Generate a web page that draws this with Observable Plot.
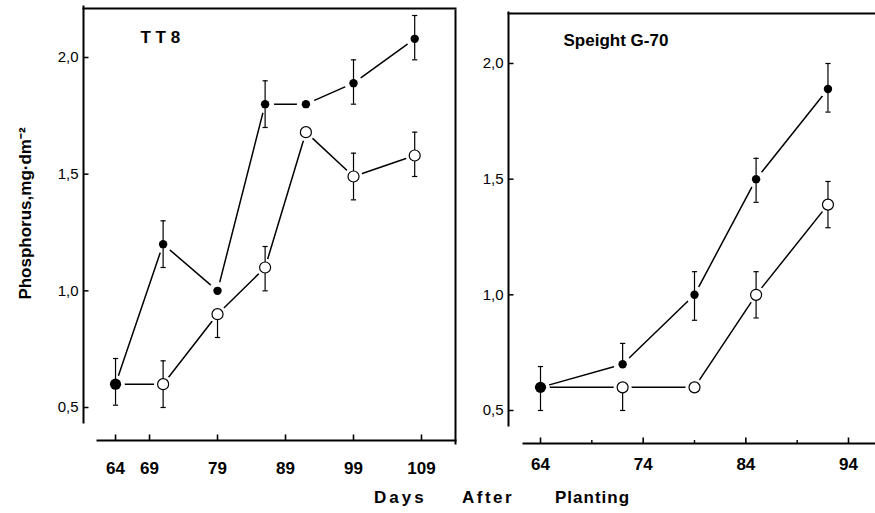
<!DOCTYPE html>
<html><head><meta charset="utf-8">
<script src="https://cdn.jsdelivr.net/npm/d3@7"></script>
<script src="https://cdn.jsdelivr.net/npm/@observablehq/plot@0.6"></script>
<style>
body{margin:0;background:#fff;}
#chart{position:relative;width:875px;height:513px;overflow:hidden;background:#fff;font-family:"Liberation Sans",Arial,sans-serif;}
#chart svg{position:absolute;top:0;}
.xt{position:absolute;font-weight:bold;font-size:17px;line-height:17px;top:489px;color:#000;white-space:nowrap;}
</style></head><body><div id="chart"></div>
<script>
// ---- data: TT 8 ----
const tt8Days = [64, 71, 79, 86, 92, 99, 108];
const tt8Filled = [0.6, 1.2, 1.0, 1.8, 1.8, 1.89, 2.08];
const tt8FilledLow = [0.51, 1.1, null, 1.7, null, 1.8, 1.99];
const tt8FilledHigh = [0.71, 1.3, null, 1.9, null, 1.99, 2.18];
const tt8Open = [0.6, 0.6, 0.9, 1.1, 1.68, 1.49, 1.58];
const tt8OpenLow = [null, 0.5, 0.8, 1.0, null, 1.39, 1.49];
const tt8OpenHigh = [null, 0.7, null, 1.19, null, 1.59, 1.68];
const tt8XTicks = [64, 69, 79, 89, 99, 109];

// ---- data: Speight G-70 ----
const spDays = [64, 72, 79, 85, 92];
const spFilled = [0.6, 0.7, 1.0, 1.5, 1.89];
const spFilledLow = [0.5, null, 0.89, 1.4, 1.79];
const spFilledHigh = [0.69, 0.79, 1.1, 1.59, 2.0];
const spOpen = [0.6, 0.6, 0.6, 1.0, 1.39];
const spOpenLow = [null, 0.5, null, 0.9, 1.29];
const spOpenHigh = [null, null, null, 1.1, 1.49];
const spXTicks = [64, 74, 84, 94];
const spXMinor = [69, 79, 89];

const yTicks = [0.5, 1.0, 1.5, 2.0];
const yTitle = "Phosphorus,mg·dm⁻²";
const xTitleWords = ["Days", "After", "Planting"];

// ---- helpers ----
const rows = (days, v, lo, hi) => days.map((d, i) => ({day: d, v: v[i], lo: lo[i], hi: hi[i]}));
const errs = (r) => r.filter(d => d.lo != null || d.hi != null)
  .map(d => ({day: d.day, a: d.lo ?? d.v, b: d.hi ?? d.v, lo: d.lo, hi: d.hi}));
const capSym = {draw(c){ c.moveTo(-2.6, 0); c.lineTo(2.6, 0); }};
const yTickSym = {draw(c){ c.moveTo(0, 0); c.lineTo(5, 0); }};
const xMajorSym = {draw(c){ c.moveTo(0, 0); c.lineTo(0, -6); }};
const xMinorSym = {draw(c){ c.moveTo(0, 0); c.lineTo(0, -3.5); }};
const fmt = d => d3.format(".1f")(d).replace(".", ",");
const FONT = "Liberation Sans, Arial, sans-serif";

function panel(o) {
  const F = rows(o.days, o.filled, o.filledLow, o.filledHigh);
  const O = rows(o.days, o.open, o.openLow, o.openHigh);
  const E = errs(F).concat(errs(O));
  const marks = [
    ...o.frames.map(f => Plot.frame({stroke: "black", strokeWidth: 2, ...f})),
    Plot.dot(yTicks, {y: d => d, frameAnchor: "left", symbol: yTickSym, stroke: "black", strokeWidth: 1.5, fill: "none"}),
    Plot.dot(o.xTicks, {x: d => d, frameAnchor: "bottom", symbol: xMajorSym, stroke: "black", strokeWidth: 1.6, fill: "none"}),
    Plot.dot(o.xMinor || [], {x: d => d, frameAnchor: "bottom", symbol: xMinorSym, stroke: "black", strokeWidth: 1.4, fill: "none"}),
    Plot.axisX(o.xTicks, {tickSize: 0, tickPadding: o.xPad, fontSize: 17, fontWeight: "bold", label: null, fill: "black"}),
    Plot.axisY(yTicks, {tickSize: 0, tickPadding: 5, tickFormat: fmt, fontSize: 15, label: null, fill: "black"}),
    Plot.line(O, {x: "day", y: "v", stroke: "black", strokeWidth: 1.5}),
    Plot.line(F, {x: "day", y: "v", stroke: "black", strokeWidth: 1.5}),
    Plot.dot(F.concat(O), {x: "day", y: "v", r: 9, fill: "white"}),
    Plot.ruleX(E, {x: "day", y1: "a", y2: "b", stroke: "black", strokeWidth: 1.2}),
    Plot.dot(E.filter(d => d.lo != null), {x: "day", y: "lo", symbol: capSym, stroke: "black", strokeWidth: 1.2, fill: "none"}),
    Plot.dot(E.filter(d => d.hi != null), {x: "day", y: "hi", symbol: capSym, stroke: "black", strokeWidth: 1.2, fill: "none"}),
    Plot.dot(O.slice(1), {x: "day", y: "v", r: 5.5, fill: "white", stroke: "black", strokeWidth: 1.2}),
    Plot.dot(F.slice(0, 1), {x: "day", y: "v", r: 5.6, fill: "black", stroke: "none"}),
    Plot.dot(F.slice(1), {x: "day", y: "v", r: 4.2, fill: "black", stroke: "none"}),
    Plot.text([o.label], {frameAnchor: "top-left", textAnchor: "start", lineAnchor: "middle", dx: o.labelDx, dy: o.labelDy, fontSize: 17, fontWeight: "bold", fill: "black"})
  ];
  if (o.yTitle) marks.push(Plot.text([o.yTitle], {frameAnchor: "left", textAnchor: "middle", lineAnchor: "middle", dx: -58, dy: -11, rotate: -90, fontSize: 17, fontWeight: "bold", fill: "black"}));
  return Plot.plot({
    width: o.width, height: 480,
    marginLeft: o.margin[0], marginRight: o.margin[1], marginTop: o.margin[2], marginBottom: o.margin[3],
    x: {domain: o.xDomain}, y: {domain: o.yDomain},
    style: {fontFamily: FONT, background: "transparent", color: "black", overflow: "visible"},
    marks
  });
}

const left = panel({
  days: tt8Days, filled: tt8Filled, filledLow: tt8FilledLow, filledHigh: tt8FilledHigh,
  open: tt8Open, openLow: tt8OpenLow, openHigh: tt8OpenHigh,
  width: 460, margin: [83, 5, 8, 40], xDomain: [59.29, 114], yDomain: [0.3586, 2.21],
  xTicks: tt8XTicks, xPad: 21, label: "T T 8", labelDx: 57, labelDy: 29, yTitle,
  frames: [{anchor: "left", insetTop: -2, insetBottom: 18}, {anchor: "top"}, {anchor: "right", insetTop: 2, insetBottom: -3}, {anchor: "bottom", insetLeft: 14}]
});
const right = panel({
  days: spDays, filled: spFilled, filledLow: spFilledLow, filledHigh: spFilledHigh,
  open: spOpen, openLow: spOpenLow, openHigh: spOpenHigh,
  width: 415, margin: [48, 0, 13, 37], xDomain: [60.883, 96.63], yDomain: [0.3573, 2.2161],
  xTicks: spXTicks, xMinor: spXMinor, xPad: 14, label: "Speight G-70", labelDx: 55, labelDy: 27,
  frames: [{anchor: "left", insetTop: -1, insetBottom: 18}, {anchor: "top"}, {anchor: "bottom", insetLeft: 15}]
});
const chart = document.getElementById("chart");
left.style.left = "0px";
right.style.left = "460px";
chart.appendChild(left);
chart.appendChild(right);
const pos = [[374, 3], [462, 2.5], [555, 1]];
xTitleWords.forEach((w, i) => {
  const s = document.createElement("span");
  s.className = "xt";
  s.textContent = w;
  s.style.left = pos[i][0] + "px";
  s.style.letterSpacing = pos[i][1] + "px";
  chart.appendChild(s);
});
</script></body></html>
